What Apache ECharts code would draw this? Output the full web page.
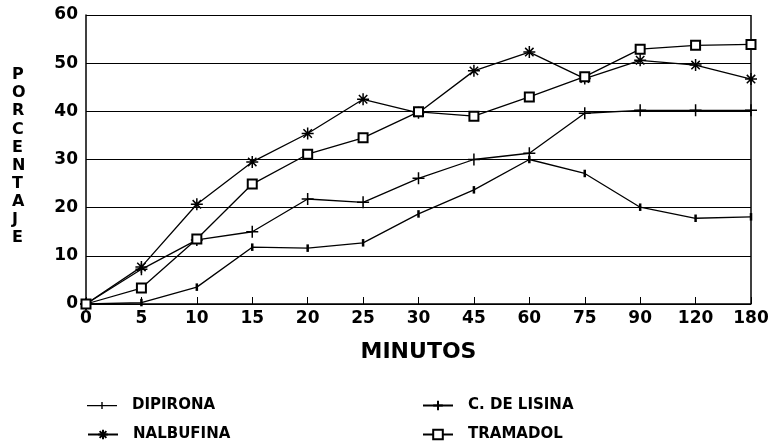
<!DOCTYPE html>
<html>
<head>
<meta charset="utf-8">
<script src="https://cdn.jsdelivr.net/npm/echarts@6/dist/echarts.min.js"></script>
<style>
  html, body { margin: 0; padding: 0; background: #fff; }
  #chart { width: 769px; height: 442px; }
</style>
</head>
<body>
<div id="chart"></div>
<script>
// datos
var minutos = ['0', '5', '10', '15', '20', '25', '30', '45', '60', '75', '90', '120', '180'];
var dipirona = [0, 0.3, 3.5, 11.8, 11.6, 12.7, 18.7, 23.7, 30, 27.1, 20.1, 17.8, 18.1];
var lisina = [0, 7.2, 13.3, 15.0, 21.8, 21.1, 26.1, 30, 31.3, 39.6, 40.2, 40.2, 40.2];
var nalbufina = [0, 7.7, 20.7, 29.5, 35.4, 42.5, 39.7, 48.4, 52.3, 46.8, 50.6, 49.6, 46.7];
var tramadol = [0, 3.3, 13.5, 24.9, 31.1, 34.5, 39.9, 39.0, 43.0, 47.2, 52.9, 53.7, 53.9];
var yTicks = [0, 10, 20, 30, 40, 50, 60];

var fuente = '"DejaVu Sans", Verdana, sans-serif';
var tickSym = 'path://M-1,-6L1,-6L1,6L-1,6Z';
var tickIcon = 'path://M0,2.9L30,2.9L30,4.2L0,4.2Z M14.3,0L15.7,0L15.7,7L14.3,7Z';
var plusSym = 'path://M0,-10L0,10M-10,0L10,0';
var starSym = 'path://M0,-10L0,10M-10,0L10,0M-7,-7L7,7M-7,7L7,-7';

function serie(name, data, symbol, size) {
  return {
    name: name,
    type: 'line',
    data: data,
    symbol: symbol,
    symbolSize: size,
    symbolKeepAspect: true,
    showAllSymbol: true,
    animation: false,
    lineStyle: { color: '#000', width: 1.3 },
    itemStyle: { color: '#000', borderColor: '#000', borderWidth: 1.5 }
  };
}

function leyenda(id, item, left, top, alto) {
  var l = {
    id: id,
    data: [item],
    left: left,
    top: top,
    itemWidth: 30,
    itemHeight: alto || 12,
    selectedMode: false,
    textStyle: { color: '#000', fontFamily: fuente, fontWeight: 'bold', fontSize: 15, padding: [0, 0, 0, 10] }
  };
  if (alto) l.itemStyle = { borderWidth: 0 };
  return l;
}

var myChart = echarts.init(document.getElementById('chart'));
var option = {
  backgroundColor: '#fff',
  animation: false,
  grid: { left: 86, right: 18, top: 15, bottom: 138, outerBoundsMode: 'none', containLabel: false },
  xAxis: {
    type: 'category',
    data: minutos,
    boundaryGap: false,
    name: 'MINUTOS',
    nameLocation: 'middle',
    nameGap: 37,
    nameTextStyle: { color: '#000', fontFamily: fuente, fontWeight: 'bold', fontSize: 22 },
    axisLine: { lineStyle: { color: '#000', width: 1.5 } },
    axisTick: { inside: true, length: 7, lineStyle: { color: '#000' } },
    axisLabel: { color: '#000', fontFamily: fuente, fontWeight: 'bold', fontSize: 17, margin: 6 },
    splitLine: { show: false }
  },
  yAxis: {
    type: 'value',
    min: 0,
    max: 60,
    interval: 10,
    axisLine: { show: true, lineStyle: { color: '#000', width: 1.5 } },
    axisTick: { show: false },
    axisLabel: { color: '#000', fontFamily: fuente, fontWeight: 'bold', fontSize: 17, margin: 8,
      formatter: function (v) { return yTicks.indexOf(v) >= 0 ? String(v) : ''; } },
    splitLine: { show: true, lineStyle: { color: '#000', width: 1.2 } }
  },
  graphic: [
    {
      type: 'text',
      left: 12,
      top: 66,
      style: {
        text: 'PORCENTAJE'.split('').join('\n'),
        font: 'bold 16px ' + fuente,
        fill: '#000',
        lineHeight: 18.1,
        align: 'center'
      }
    },
    {
      type: 'line',
      shape: { x1: 751, y1: 15, x2: 751, y2: 304 },
      style: { stroke: '#000', lineWidth: 1.5 }
    }
  ],
  legend: [
    leyenda('l1', { name: 'DIPIRONA', icon: tickIcon }, 82, 393, 7),
    leyenda('l2', 'NALBUFINA', 82, 422),
    leyenda('l3', 'C. DE LISINA', 417, 393),
    leyenda('l4', 'TRAMADOL', 417, 422)
  ],
  series: [
    serie('DIPIRONA', dipirona, tickSym, 6),
    serie('C. DE LISINA', lisina, plusSym, 12),
    serie('NALBUFINA', nalbufina, starSym, 12),
    serie('TRAMADOL', tramadol, 'emptyRect', 9)
  ]
};
myChart.setOption(option);
</script>
</body>
</html>
